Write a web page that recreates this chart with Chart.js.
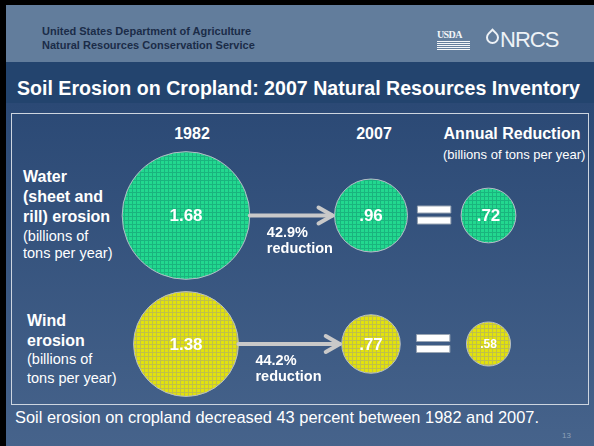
<!DOCTYPE html>
<html lang="en">
<head>
<meta charset="UTF-8">
<title>Soil Erosion on Cropland</title>
<script src="https://cdn.jsdelivr.net/npm/chart.js"></script>
<style>
  html, body { margin: 0; padding: 0; }
  body { width: 594px; height: 446px; position: relative; overflow: hidden;
         font-family: "Liberation Sans", Arial, sans-serif; color: #fff;
         background: linear-gradient(#2b4975 103px, #46638b 446px); }
  .abs { position: absolute; white-space: nowrap; line-height: 1; }
  #topbar { left: 0; top: 0; width: 594px; height: 5px; background: #000; }
  #leftbar { left: 0; top: 0; width: 6px; height: 446px; background: #000; }
  #header { left: 6px; top: 5px; width: 588px; height: 57px; background: #627d9c; }
  #titlebar { left: 6px; top: 62px; width: 588px; height: 41px; background: #23446e; }
  .agency { color: #1b2c48; font-weight: bold; font-size: 11px; left: 42px; }
  #title { left: 17px; top: 79px; font-size: 19.6px; font-weight: bold; }
  #box { left: 11px; top: 113px; width: 576px; height: 290px; border: 1px solid #cdd5e0; }
  .colhead { font-size: 16px; font-weight: bold; transform: translateX(-50%); }
  .rowhead { font-size: 16px; font-weight: bold; }
  .rowsub { font-size: 14.5px; }
  #foot { left: 15px; top: 409px; font-size: 16.4px; }
  #page { left: 562px; top: 432px; font-size: 8px; color: #8ea0b8; }
  #usda { left: 437px; top: 30px; font-family: "Liberation Serif", serif; font-size: 10px; font-weight: bold; color: #f2f5f8; letter-spacing: -0.6px; }
  #usdaLines { left: 437px; top: 41px; width: 33px; height: 9px;
               background: repeating-linear-gradient(#f2f5f8 0 1px, transparent 1px 2px); }
  #drop { left: 486px; top: 31px; width: 9px; height: 9px; border: 2px solid #eef2f6;
          border-radius: 0 50% 50% 50%; transform: rotate(45deg); }
  #nrcs { left: 500px; top: 29px; font-size: 22px; color: #eef2f6; letter-spacing: -1px;
          font-family: "Liberation Sans Narrow", "Liberation Sans", sans-serif; font-weight: normal; }
  canvas { position: absolute; left: 0; top: 0; }
</style>
</head>
<body>
<div id="header" class="abs"></div>
<div id="titlebar" class="abs"></div>
<div id="topbar" class="abs"></div>
<div id="leftbar" class="abs"></div>
<div class="abs agency" style="top:26px">United States Department of Agriculture</div>
<div class="abs agency" style="top:40px">Natural Resources Conservation Service</div>
<div id="usda" class="abs">USDA</div>
<div id="usdaLines" class="abs"></div>
<div id="drop" class="abs"></div>
<div id="nrcs" class="abs">NRCS</div>
<div id="title" class="abs">Soil Erosion on Cropland: 2007 Natural Resources Inventory</div>
<div id="box" class="abs"></div>

<div class="abs colhead" style="left:192px; top:126px">1982</div>
<div class="abs colhead" style="left:374px; top:126px">2007</div>
<div class="abs colhead" style="left:512px; top:126px">Annual Reduction</div>
<div class="abs" style="left:443px; top:148px; font-size:13px">(billions of tons per year)</div>

<div class="abs rowhead" style="left:23px; top:169px">Water</div>
<div class="abs rowhead" style="left:23px; top:189px">(sheet and</div>
<div class="abs rowhead" style="left:23px; top:209px">rill) erosion</div>
<div class="abs rowsub" style="left:23px; top:229px">(billions of</div>
<div class="abs rowsub" style="left:23px; top:246px">tons per year)</div>

<div class="abs rowhead" style="left:27px; top:313px">Wind</div>
<div class="abs rowhead" style="left:27px; top:333px">erosion</div>
<div class="abs rowsub" style="left:27px; top:352px">(billions of</div>
<div class="abs rowsub" style="left:27px; top:371px">tons per year)</div>

<div id="foot" class="abs">Soil erosion on cropland decreased 43 percent between 1982 and 2007.</div>
<div id="page" class="abs">13</div>

<canvas id="chart" width="594" height="446"></canvas>

<script>
// erosion, billions of tons per year
const erosionTypes = ['Water (sheet and rill) erosion', 'Wind erosion'];
const years = ['1982', '2007'];
const erosion1982 = [1.68, 1.38];
const erosion2007 = [0.96, 0.77];
const annualReduction = [0.72, 0.58];
const percentReduction = [42.9, 44.2];

// layout (pixels in the slide)
const colX = [186, 371, 488.5];
const rowY = [215.5, 344];
const pxPerUnit = 38;

function makePattern(base, line) {
    const c = document.createElement('canvas');
    c.width = 4; c.height = 4;
    const g = c.getContext('2d');
    g.fillStyle = base;
    g.fillRect(0, 0, 4, 4);
    g.fillStyle = line;
    g.fillRect(0, 0, 4, 1);
    g.fillRect(0, 0, 1, 4);
    return g.createPattern(c, 'repeat');
}

const ctx = document.getElementById('chart').getContext('2d');
const fills = [makePattern('#22d88f', '#1ab47e'), makePattern('#e2e20c', '#c0c04a')];

function fmt(v) {
    return v.toFixed(2).replace(/^0/, '');
}

const datasets = erosionTypes.map(function (name, i) {
    const vals = [erosion1982[i], erosion2007[i], annualReduction[i]];
    return {
        label: name,
        data: vals.map(function (v, j) { return { x: colX[j], y: rowY[i], r: v * pxPerUnit, v: v }; }),
        backgroundColor: fills[i],
        borderColor: '#b4bcc6',
        borderWidth: 1
    };
});

const slideMarks = {
    id: 'slideMarks',
    afterDatasetsDraw: function (chart) {
        const c = chart.ctx;
        chart.data.datasets.forEach(function (ds, i) {
            const pts = chart.getDatasetMeta(i).data;
            const r = ds.data.map(function (d) { return d.r; });
            const y = pts[0].y;
            c.save();
            // arrow from 1982 to 2007
            c.strokeStyle = '#c9c9c9';
            c.lineWidth = 4;
            c.lineCap = 'round';
            c.lineJoin = 'round';
            const x0 = pts[0].x + r[0], x1 = pts[1].x - r[1];
            c.beginPath();
            c.moveTo(x0, y);
            c.lineTo(x1 - 2, y);
            c.stroke();
            c.beginPath();
            c.moveTo(x1 - 16, y - 8);
            c.lineTo(x1 - 2, y);
            c.lineTo(x1 - 16, y + 8);
            c.stroke();
            // percent reduction
            c.fillStyle = '#fff';
            c.font = 'bold 14.5px "Liberation Sans", Arial, sans-serif';
            c.textBaseline = 'middle';
            c.textAlign = 'left';
            c.fillText(percentReduction[i].toFixed(1) + '%', x0 + 17, y + 17);
            c.fillText('reduction', x0 + 17, y + 33);
            // equals sign
            const ex = (pts[1].x + r[1] + pts[2].x - r[2]) / 2;
            c.fillStyle = '#ffffff';
            c.strokeStyle = '#9aa6b4';
            c.lineWidth = 1;
            [-6, 5].forEach(function (dy) {
                c.fillRect(ex - 16.5, y + dy - 3.5, 33, 7);
                c.strokeRect(ex - 16.5, y + dy - 3.5, 33, 7);
            });
            // values in the circles
            c.fillStyle = '#fff';
            c.textAlign = 'center';
            pts.forEach(function (p, j) {
                const small = r[j] < 25;
                c.font = 'bold ' + (small ? 12 : 17) + 'px "Liberation Sans", Arial, sans-serif';
                c.fillText(fmt(ds.data[j].v), p.x, p.y + 1);
            });
            c.restore();
        });
    }
};

new Chart(ctx, {
    type: 'bubble',
    data: { datasets: datasets },
    options: {
        responsive: false,
        animation: false,
        layout: { padding: 0, autoPadding: false },
        plugins: { legend: { display: false }, tooltip: { enabled: false } },
        scales: {
            x: { type: 'linear', min: 0, max: 594, display: false },
            y: { type: 'linear', min: 0, max: 446, reverse: true, display: false }
        }
    },
    plugins: [slideMarks]
});
</script>
</body>
</html>
